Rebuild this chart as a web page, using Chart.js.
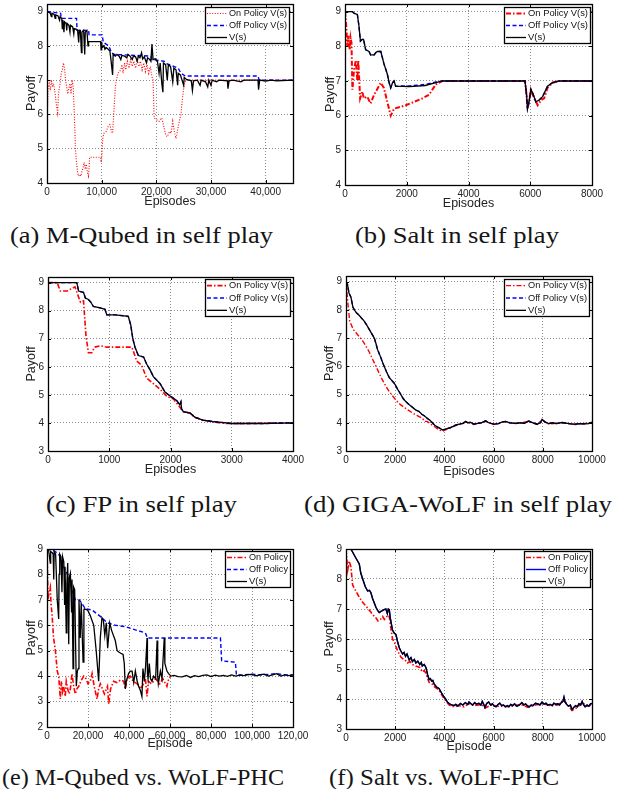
<!DOCTYPE html>
<html><head><meta charset="utf-8">
<script src="https://cdn.jsdelivr.net/npm/chart.js@4"></script>
<style>
html,body{margin:0;padding:0;background:#fff}
body{width:618px;height:789px;position:relative;overflow:hidden}
canvas{position:absolute}
.cap{position:absolute;font-family:"Liberation Serif","DejaVu Serif",serif;font-size:23px;color:#151515;white-space:nowrap;transform-origin:0 50%;line-height:28px}
</style></head><body>
<script>
// ---------- DATA ----------
const aOn = [[0,9.0],[100,6.2],[200,6.8],[400,6.9],[600,6.7],[800,7.0],[1000,6.8],[1200,6.9],[1500,6.6],[1700,6.3],[1950,6.05],[2100,6.6],[2400,6.9],[2600,7.2],[2800,7.3],[3000,7.5],[3200,7.35],[3400,7.0],[3600,6.8],[3800,6.6],[4000,6.75],[4200,6.9],[4400,6.6],[4600,7.0],[4800,6.8],[5000,6.0],[5200,5.0],[5400,4.6],[5600,4.3],[5800,4.2],[6000,4.25],[6200,4.2],[6400,4.35],[6600,4.45],[6800,4.6],[7000,4.4],[7200,4.55],[7400,4.3],[7600,4.2],[7800,4.75],[9800,4.75],[9900,4.6],[10000,4.7],[10200,5.3],[10400,5.45],[10800,5.5],[11200,5.65],[11500,5.7],[11800,5.5],[12000,5.45],[12200,6.0],[12500,6.8],[12700,7.0],[13000,7.2],[13500,7.3],[13700,7.45],[13900,7.2],[14200,7.5],[14400,7.3],[14700,7.55],[15000,7.35],[15300,7.6],[15600,7.4],[15900,7.55],[16200,7.35],[16500,7.6],[16800,7.4],[17100,7.55],[17400,7.3],[17700,7.5],[18000,7.25],[18300,7.45],[18600,7.2],[18900,7.4],[19200,7.1],[19400,7.0],[19600,5.9],[20000,5.85],[20500,5.8],[21000,5.9],[21300,5.7],[21700,5.4],[22000,5.35],[22400,5.5],[22700,5.45],[23000,5.8],[23300,5.5],[23600,5.3],[23900,5.55],[24200,5.8],[24500,6.0],[24800,6.5],[25100,6.9],[25500,7.0],[45000,7.0]];
const aOff = [[0,9.0],[2500,8.95],[2600,8.8],[5400,8.8],[5500,8.45],[7600,8.45],[7700,8.32],[10100,8.32],[10300,8.1],[11300,8.0],[11800,7.8],[12300,7.75],[19000,7.7],[19200,7.6],[21400,7.55],[21600,7.5],[24000,7.35],[24500,7.2],[25300,7.12],[38600,7.12],[38800,7.0],[45000,7.0]];
const aV = [[0,9.0],[300,8.98],[600,8.95],[800,8.85],[900,8.95],[1300,8.92],[1500,8.8],[1600,8.9],[2000,8.88],[2300,8.75],[2400,8.85],[2700,8.8],[2800,8.5],[2900,8.75],[3100,8.4],[3200,8.7],[3500,8.65],[3600,8.45],[3700,8.65],[4000,8.6],[4200,8.4],[4300,8.6],[4700,8.55],[4900,8.35],[5000,8.5],[5400,8.48],[5600,8.45],[5800,8.1],[5900,8.45],[6100,8.45],[6300,7.8],[6400,8.4],[6700,8.45],[6900,7.75],[7000,8.4],[7300,8.45],[7500,8.0],[7600,8.12],[9800,8.12],[9900,7.88],[10000,8.12],[10100,7.95],[10400,8.0],[10600,7.9],[10800,7.95],[11200,7.9],[11500,7.85],[11700,7.6],[12000,7.15],[12100,7.75],[12500,7.7],[12800,7.75],[13200,7.7],[13500,7.6],[13700,7.72],[14200,7.7],[14600,7.65],[14800,7.75],[15200,7.7],[15600,7.6],[15800,7.7],[16200,7.68],[16500,7.55],[16700,7.7],[17000,7.65],[17300,7.8],[17500,7.62],[17800,7.68],[18200,7.5],[18400,7.65],[18800,7.6],[19000,7.55],[19200,8.05],[19400,7.6],[19800,7.62],[20200,7.55],[20500,7.2],[20700,7.5],[21000,6.9],[21200,6.65],[21300,7.5],[21700,7.45],[22000,7.0],[22200,7.45],[22600,7.4],[23000,6.95],[23200,7.35],[23600,7.3],[23900,6.85],[24000,7.2],[24400,7.15],[24700,7.0],[25000,6.85],[25100,7.08],[25500,7.02],[26000,7.0],[26400,6.98],[26600,6.7],[26800,6.98],[27500,7.0],[28000,6.85],[28200,7.0],[29000,6.95],[29400,6.8],[29600,7.0],[30000,6.85],[30200,7.0],[31000,6.95],[31500,7.0],[33000,6.98],[33100,6.75],[33300,6.98],[34000,7.0],[35500,6.95],[36000,7.0],[38600,7.0],[38700,6.72],[38900,7.0],[40000,6.97],[41000,7.0],[42000,6.98],[45000,7.0]];

const bOn = [[0,9.0],[40,8.6],[75,8.0],[110,8.3],[150,7.9],[180,8.25],[210,8.1],[240,6.75],[290,7.3],[350,7.6],[400,7.0],[430,7.6],[490,6.5],[560,6.7],[610,6.5],[720,6.55],[830,6.35],[940,6.6],[1160,6.95],[1260,6.8],[1480,6.0],[1590,6.2],[1970,6.3],[2510,6.5],[2720,6.6],[2940,6.9],[3160,7.0],[5830,7.0],[5880,6.6],[5910,6.2],[5960,6.4],[6020,6.75],[6080,6.6],[6240,6.3],[6350,6.45],[6450,6.5],[6560,6.8],[6720,6.95],[6940,7.0],[8000,7.0]];
const bOff = [[0,9.0],[240,9.0],[300,8.95],[400,8.92],[450,8.6],[500,8.15],[560,8.2],[600,8.2],[670,7.9],[780,7.85],[830,7.75],[940,7.75],[1000,7.82],[1050,7.85],[1160,7.85],[1260,7.5],[1370,7.2],[1430,6.95],[1480,6.8],[1540,6.95],[1590,7.0],[1640,6.85],[2080,6.86],[2600,6.9],[2940,6.97],[3160,7.0],[5830,7.0],[5880,6.6],[5910,6.2],[5960,6.4],[6020,6.75],[6080,6.65],[6180,6.4],[6290,6.45],[6400,6.55],[6560,6.85],[6720,6.95],[6940,7.0],[8000,7.0]];
const bV = [[0,9.0],[240,9.0],[300,8.95],[400,8.92],[450,8.6],[500,8.15],[560,8.2],[600,8.2],[670,7.9],[780,7.85],[830,7.75],[940,7.75],[1000,7.82],[1050,7.85],[1160,7.85],[1260,7.5],[1370,7.2],[1430,6.95],[1480,6.8],[1540,6.95],[1590,7.0],[1640,6.85],[2080,6.84],[2600,6.87],[2940,6.95],[3160,7.0],[5830,7.0],[5880,6.6],[5910,6.2],[5960,6.4],[6020,6.75],[6080,6.65],[6180,6.4],[6290,6.45],[6400,6.55],[6560,6.85],[6720,6.95],[6940,7.0],[8000,7.0]];

const cOn = [[0,9.0],[150,9.0],[200,8.7],[310,8.7],[440,8.85],[530,8.3],[580,8.35],[620,7.1],[660,6.5],[715,6.5],[760,6.7],[850,6.75],[960,6.7],[1370,6.7],[1450,6.2],[1530,6.05],[1610,5.6],[1720,5.4],[1830,5.2],[1940,4.95],[2050,4.85],[2210,4.4],[2320,4.35],[2400,4.2],[2530,4.1],[2700,4.03],[2910,3.98],[3500,3.99],[4000,4.0]];
const cOff = [[0,9.0],[470,9.0],[500,8.7],[580,8.65],[610,8.45],[660,8.4],[700,8.3],[740,8.15],[850,8.1],[930,8.05],[960,7.85],[1100,7.85],[1310,7.8],[1350,7.5],[1385,7.0],[1420,6.7],[1475,6.4],[1560,6.35],[1610,6.1],[1665,5.9],[1720,5.65],[1830,5.4],[1910,5.1],[2000,4.95],[2100,4.8],[2150,4.65],[2170,4.75],[2180,4.5],[2210,4.4],[2320,4.35],[2400,4.2],[2530,4.1],[2700,4.05],[2910,4.0],[3000,3.98],[3500,3.98],[4000,4.0]];
const cV = [[0,9.0],[470,9.0],[500,8.7],[580,8.65],[610,8.45],[660,8.4],[700,8.3],[740,8.15],[850,8.1],[930,8.05],[960,7.85],[1100,7.85],[1310,7.8],[1350,7.5],[1385,7.0],[1420,6.7],[1475,6.4],[1560,6.35],[1610,6.1],[1665,5.9],[1720,5.65],[1830,5.4],[1910,5.1],[2000,4.95],[2100,4.8],[2150,4.65],[2170,4.75],[2180,4.5],[2210,4.4],[2320,4.35],[2400,4.2],[2530,4.1],[2700,4.05],[2910,4.0],[3000,3.98],[3500,3.98],[4000,4.0]];

const dOn = [[0,9.0],[80,8.2],[150,7.6],[200,7.5],[300,7.3],[400,7.2],[540,7.05],[680,6.9],[820,6.7],[950,6.5],[1080,6.25],[1220,6.0],[1350,5.75],[1490,5.5],[1620,5.3],[1760,5.1],[1900,4.95],[2030,4.8],[2200,4.65],[2360,4.55],[2530,4.45],[2700,4.35],[2900,4.25],[3110,4.15],[3200,4.05],[3300,4.05],[3450,3.95],[3620,3.85],[3780,3.75],[3920,3.7],[4020,3.74],[4130,3.78],[4250,3.82],[4460,3.9],[4750,3.97],[4860,4.03],[5200,3.94],[5680,4.05],[6010,3.94],[6490,4.04],[6890,3.97],[7430,4.05],[7770,3.94],[7970,4.1],[8240,3.96],[8780,4.0],[9320,3.94],[10000,4.0]];
const dOff = [[0,9.0],[60,8.9],[120,8.6],[200,8.45],[280,8.1],[340,8.0],[420,7.9],[540,7.8],[640,7.7],[740,7.6],[850,7.45],[950,7.3],[1050,7.15],[1150,7.0],[1220,6.8],[1280,6.6],[1350,6.45],[1420,6.3],[1480,6.15],[1550,6.0],[1650,5.8],[1760,5.6],[1860,5.5],[1960,5.4],[2030,5.3],[2090,5.2],[2160,5.1],[2230,5.0],[2330,4.85],[2430,4.75],[2560,4.65],[2700,4.55],[2840,4.45],[2970,4.4],[3080,4.3],[3180,4.25],[3250,4.2],[3310,4.15],[3400,4.1],[3510,4.0],[3620,3.9],[3720,3.85],[3820,3.8],[3920,3.75],[4020,3.77],[4130,3.8],[4250,3.83],[4350,3.87],[4460,3.92],[4600,3.95],[4750,3.98],[4860,4.05],[4950,4.0],[5050,4.02],[5200,3.95],[5350,3.98],[5500,4.0],[5680,4.07],[5800,4.0],[6010,3.95],[6200,3.97],[6350,4.03],[6490,4.05],[6650,4.0],[6890,3.98],[7100,4.0],[7250,3.98],[7430,4.06],[7600,4.0],[7770,3.95],[7900,4.0],[7970,4.12],[8100,4.02],[8240,3.97],[8400,4.0],[8550,3.97],[8780,4.01],[9000,3.98],[9150,3.96],[9320,3.95],[9500,3.97],[9700,3.96],[9850,3.97],[10000,4.02]];
const dV = [[0,9.0],[60,8.9],[120,8.6],[200,8.45],[280,8.1],[340,8.0],[420,7.9],[540,7.8],[640,7.7],[740,7.6],[850,7.45],[950,7.3],[1050,7.15],[1150,7.0],[1220,6.8],[1280,6.6],[1350,6.45],[1420,6.3],[1480,6.15],[1550,6.0],[1650,5.8],[1760,5.6],[1860,5.5],[1960,5.4],[2030,5.3],[2090,5.2],[2160,5.1],[2230,5.0],[2330,4.85],[2430,4.75],[2560,4.65],[2700,4.55],[2840,4.45],[2970,4.4],[3080,4.3],[3180,4.25],[3250,4.2],[3310,4.15],[3400,4.1],[3510,4.0],[3620,3.9],[3720,3.85],[3820,3.8],[3920,3.75],[4020,3.77],[4130,3.8],[4250,3.83],[4350,3.87],[4460,3.92],[4600,3.95],[4750,3.98],[4860,4.05],[4950,4.0],[5050,4.02],[5200,3.95],[5350,3.98],[5500,4.0],[5680,4.07],[5800,4.0],[6010,3.95],[6200,3.97],[6350,4.03],[6490,4.05],[6650,4.0],[6890,3.98],[7100,4.0],[7250,3.98],[7430,4.06],[7600,4.0],[7770,3.95],[7900,4.0],[7970,4.12],[8100,4.02],[8240,3.97],[8400,4.0],[8550,3.97],[8780,4.01],[9000,3.98],[9150,3.96],[9320,3.95],[9500,3.97],[9700,3.96],[9850,3.97],[10000,4.02]];

const eOn = [[0,9.0],[500,7.0],[1000,7.3],[1600,7.5],[2000,6.8],[2400,6.5],[3200,5.5],[4100,5.0],[5000,4.2],[5700,4.0],[6500,3.1],[7000,3.8],[7600,3.4],[8100,3.6],[8900,3.2],[9400,3.8],[10100,3.5],[10800,3.3],[11400,3.5],[12200,4.1],[13000,3.6],[13800,3.3],[14600,3.5],[15500,3.6],[16500,3.8],[17900,4.0],[19000,3.9],[20000,3.7],[21100,3.8],[22000,4.1],[23000,3.6],[24400,3.1],[25200,3.5],[26000,3.7],[27000,3.5],[28000,3.3],[29500,3.6],[30100,2.9],[31000,3.5],[32500,3.8],[34000,3.75],[36000,3.85],[37400,3.8],[38200,3.5],[39000,3.9],[40600,4.0],[42000,3.8],[44000,3.7],[46000,3.5],[48000,3.9],[48800,3.2],[49500,3.8],[51000,3.7],[53000,3.9],[55000,3.7],[56500,3.9],[58500,3.6],[59000,3.8],[60200,4.0]];
const eOff = [[0,9.0],[3000,8.95],[5700,8.8],[8100,8.3],[10600,7.9],[12200,7.4],[13800,7.0],[15800,7.0],[18700,6.65],[22000,6.6],[26000,6.35],[29300,6.1],[33300,6.0],[38200,5.95],[43900,5.8],[48000,5.7],[49000,5.5],[84600,5.5],[85200,4.6],[91900,4.55],[92400,4.05],[96000,4.05],[100000,4.08],[104000,4.04],[108000,4.07],[112000,4.1],[116000,4.05],[120000,4.05]];
const eV = [[0,9.0],[800,8.95],[1600,8.45],[1800,8.9],[2600,8.85],[3000,8.8],[3300,7.8],[3500,8.9],[4200,8.8],[5000,7.0],[5700,6.25],[5900,8.0],[6200,8.8],[6800,8.7],[7300,7.3],[7600,8.7],[8200,8.5],[8600,6.8],[8800,8.3],[9400,5.7],[9700,7.6],[10100,8.45],[10600,5.25],[10900,7.9],[11400,8.05],[12000,6.5],[12200,7.8],[12700,4.3],[13000,7.5],[13500,7.4],[14300,3.6],[14800,4.2],[15300,4.3],[15600,7.0],[16200,5.5],[16700,6.9],[17600,4.55],[18000,6.6],[18200,6.65],[19800,6.6],[21000,6.4],[22800,6.0],[24000,5.0],[25200,3.8],[26000,5.5],[26800,6.3],[27500,6.2],[28200,5.6],[28900,6.1],[29600,5.1],[30600,6.1],[31500,5.8],[33300,5.4],[34200,5.0],[35000,4.95],[36000,4.9],[37100,4.85],[37700,4.5],[38200,3.5],[38700,3.8],[39800,4.1],[40600,4.2],[41500,4.2],[42300,3.75],[43100,4.2],[44000,3.8],[44700,3.6],[45500,3.45],[46300,3.2],[46800,4.3],[47500,3.8],[48100,4.4],[48800,5.5],[49000,4.1],[49300,3.9],[49900,4.5],[50500,3.9],[51200,3.8],[52000,4.0],[53000,3.9],[53700,5.4],[54000,4.0],[54300,3.7],[55300,4.2],[56100,3.9],[57200,5.5],[57500,4.5],[58500,4.2],[59300,4.1],[60500,4.0],[62000,4.03],[64000,3.98],[66000,3.97],[68000,4.03],[70000,3.95],[72000,4.02],[74000,3.98],[76000,4.03],[78000,4.05],[80000,3.98],[82000,4.04],[84000,4.0],[86000,4.03],[88000,3.99],[90000,4.05],[92000,4.0],[94000,4.04],[96000,4.02],[98000,4.06],[100000,4.07],[102000,4.01],[104000,4.06],[106000,4.08],[108000,4.0],[110000,4.05],[112000,4.1],[114000,4.0],[116000,4.05],[118000,4.02],[120000,4.05]];

const fOn = [[0,9.0],[70,8.3],[130,8.6],[200,8.4],[270,7.8],[400,7.6],[500,7.45],[610,7.3],[700,7.2],[810,7.1],[900,7.0],[1010,6.9],[1100,6.8],[1220,6.7],[1300,6.6],[1400,6.65],[1490,6.75],[1560,6.65],[1620,6.7],[1700,6.8],[1760,6.75],[1800,6.5],[1890,6.0],[1960,5.9],[2100,5.6],[2230,5.4],[2300,5.35],[2400,5.3],[2500,5.2],[2600,5.25],[2700,5.15],[2840,5.1],[3000,5.05],[3100,4.9],[3180,4.95],[3250,4.85],[3380,4.55],[3500,4.5],[3600,4.4],[3780,4.3],[3920,4.1],[4050,3.95],[4190,3.8],[4300,3.75],[4460,3.75],[4600,3.78],[4800,3.74],[5000,3.85],[5200,3.78],[5500,3.82],[5650,3.7],[5900,3.8],[6200,3.76],[6500,3.75],[6800,3.76],[7100,3.82],[7400,3.72],[7700,3.8],[8000,3.84],[8300,3.78],[8600,3.8],[8860,3.98],[9000,3.8],[9190,3.62],[9400,3.72],[9600,3.88],[9800,3.76],[10000,3.8]];
const fV = [[0,9.0],[200,9.0],[300,8.85],[400,8.7],[540,8.5],[600,8.2],[680,8.0],[780,7.75],[880,7.6],[950,7.62],[1010,7.55],[1080,7.35],[1150,7.2],[1220,7.05],[1290,6.95],[1350,6.88],[1420,6.92],[1490,6.95],[1550,6.98],[1620,7.0],[1680,6.85],[1720,7.0],[1760,6.98],[1800,6.7],[1890,6.3],[1960,6.2],[2030,6.15],[2100,5.9],[2170,5.7],[2230,5.6],[2300,5.5],[2360,5.55],[2420,5.42],[2480,5.5],[2570,5.3],[2640,5.38],[2700,5.25],[2780,5.32],[2840,5.2],[2920,5.26],[3000,5.15],[3060,5.22],[3100,5.1],[3180,5.15],[3250,5.05],[3320,4.8],[3380,4.65],[3430,4.68],[3480,4.6],[3530,4.62],[3580,4.5],[3680,4.4],[3780,4.35],[3850,4.25],[3920,4.15],[4000,4.05],[4050,4.0],[4120,3.9],[4190,3.85],[4300,3.8],[4400,3.78],[4460,3.82],[4550,3.77],[4650,3.85],[4750,3.8],[4850,3.88],[4950,3.82],[5000,3.9],[5080,3.84],[5150,3.8],[5230,3.88],[5300,3.83],[5400,3.86],[5480,3.8],[5540,3.92],[5600,3.82],[5650,3.72],[5720,3.85],[5800,3.9],[5880,3.8],[5950,3.84],[6030,3.76],[6100,3.74],[6180,3.82],[6250,3.86],[6330,3.78],[6400,3.8],[6480,3.74],[6560,3.78],[6620,3.74],[6700,3.82],[6780,3.78],[6850,3.84],[6950,3.76],[7050,3.8],[7150,3.88],[7230,3.8],[7300,3.84],[7380,3.77],[7450,3.74],[7530,3.8],[7600,3.78],[7700,3.86],[7800,3.84],[7880,3.8],[7970,3.9],[8050,3.83],[8130,3.86],[8200,3.8],[8300,3.82],[8380,3.78],[8450,3.86],[8530,3.82],[8600,3.84],[8680,3.8],[8750,3.88],[8820,3.92],[8860,4.06],[8900,3.9],[8970,3.82],[9050,3.76],[9120,3.8],[9190,3.65],[9260,3.72],[9330,3.78],[9400,3.74],[9470,3.84],[9540,3.8],[9600,3.92],[9650,3.82],[9720,3.74],[9800,3.8],[9870,3.76],[9940,3.84],[10000,3.85]];
const fOff = fV;

const aXTicks = [0,10000,20000,30000,40000];
const aXLabels = ['0','10,000','20,000','30,000','40,000'];
const bXTicks = [0,2000,4000,6000,8000];
const bXLabels = ['0','2000','4000','6000','8000'];
const cXTicks = [0,1000,2000,3000,4000];
const cXLabels = ['0','1000','2000','3000','4000'];
const dfXTicks = [0,2000,4000,6000,8000,10000];
const dfXLabels = ['0','2000','4000','6000','8000','10000'];
const eXTicks = [0,20000,40000,60000,80000,100000,120000];
const eXLabels = ['0','20,000','40,000','60,000','80,000','100,000','120,00'];
const yTicks4 = [4,5,6,7,8,9];
const yTicks3 = [3,4,5,6,7,8,9];
const yTicks2 = [2,3,4,5,6,7,8,9];
const legendLong = ['On Policy V(s)','Off Policy V(s)','V(s)'];
const legendShort = ['On Policy','Off Policy','V(s)'];
const captions = ['(a) M-Qubed in self play','(b) Salt in self play','(c) FP in self play','(d) GIGA-WoLF in self play','(e) M-Qubed vs. WoLF-PHC','(f) Salt vs. WoLF-PHC'];

// ---------- LAYOUT / STYLE ----------
const RED='#ff0000', BLUE='#0000ff', BLACK='#000000';
const DOT=[1,1.6], DASHDOT=[5,2,1.5,2], DASH=[4,2.5];
const panels = [
 {x0:0,  y0:0,  w:309,h:212, area:[47,4,293,183],  yT:32, xT:202, xMax:45000, yMin:4, yMax:9.22, xt:aXTicks, xl:aXLabels, yt:yTicks4, xTitle:'Episodes', s:[aOn,aOff,aV], lab:legendLong, red:[DOT,1.1], blue:[DASH,1.4], leg:[205,7,84,36]},
 {x0:309,y0:0,  w:309,h:212, area:[345,4,592,185], yT:331,xT:204, xMax:8000,  yMin:4, yMax:9.22, xt:bXTicks, xl:bXLabels, yt:yTicks4, xTitle:'Episodes', s:[bOn,bOff,bV], lab:legendLong, red:[DASHDOT,2], blue:[DASH,1.4], leg:[504,7,86,36]},
 {x0:0,  y0:250,w:309,h:232, area:[48,277,293,451],yT:32, xT:470, xMax:4000,  yMin:3, yMax:9.2,  xt:cXTicks, xl:cXLabels, yt:yTicks3, xTitle:'Episodes', s:[cOn,cOff,cV], lab:legendLong, red:[DASHDOT,1.6], blue:[DASH,1.4], leg:[205,279,85,37]},
 {x0:309,y0:250,w:309,h:232, area:[346,276,592,451],yT:330,xT:472, xMax:10000, yMin:3, yMax:9.2,  xt:dfXTicks,xl:dfXLabels,yt:yTicks3, xTitle:'Episodes', s:[dOn,dOff,dV], lab:legendLong, red:[DASHDOT,1.4], blue:[DASH,1.4], leg:[504,279,85,37]},
 {x0:0,  y0:535,w:309,h:220, area:[47,549,293,727],yT:32, xT:744, xMax:120000,yMin:2, yMax:9,    xt:eXTicks, xl:eXLabels, yt:yTicks2, xTitle:'Episode',  s:[eOn,eOff,eV], lab:legendShort,red:[DASHDOT,1.6], blue:[DASH,1.4], leg:[225,551,65,36]},
 {x0:309,y0:535,w:309,h:220, area:[346,549,592,729],yT:330,xT:747, xMax:10000, yMin:3, yMax:9,    xt:dfXTicks,xl:dfXLabels,yt:yTicks3, xTitle:'Episode',  s:[fOn,fOff,fV], lab:legendShort,red:[DASHDOT,1.6], blue:[[],1.4],  leg:[524,551,66,36]}
];
const capPos = [[10,236,263],[355,236,204],[46,505,191],[304,505,308],[2,778,282],[329,778,230]];

const SANS='"Liberation Sans", Arial, sans-serif';
const TICKFONT={family:SANS,size:10};
const TITLEFONT={family:SANS,size:12.5};

const framePlugin = {
  id:'frame',
  afterDatasetsDraw(chart){
    const {ctx, chartArea:a, scales:{x,y}} = chart;
    ctx.save();
    ctx.strokeStyle='#000'; ctx.lineWidth=1; ctx.setLineDash([]);
    ctx.beginPath();
    x.ticks.forEach(t=>{const p=Math.round(x.getPixelForValue(t.value))+0.5; ctx.moveTo(p,a.bottom); ctx.lineTo(p,a.bottom-3); ctx.moveTo(p,a.top); ctx.lineTo(p,a.top+3);});
    y.ticks.forEach(t=>{const p=Math.round(y.getPixelForValue(t.value))+0.5; ctx.moveTo(a.left,p); ctx.lineTo(a.left+3,p); ctx.moveTo(a.right,p); ctx.lineTo(a.right-3,p);});
    ctx.stroke();
    ctx.lineWidth=1.3;
    ctx.strokeRect(Math.round(a.left)+0.5, Math.round(a.top)+0.5, Math.round(a.right-a.left), Math.round(a.bottom-a.top));
    ctx.restore();
  }
};
const boxLegend = {
  id:'boxLegend',
  afterDraw(chart, args, o){
    const ctx=chart.ctx; const [bx,by,bw,bh]=o.box;
    const X=bx-o.ox, Y=by-o.oy;
    ctx.save();
    ctx.fillStyle='#fff'; ctx.fillRect(X,Y,bw,bh);
    ctx.strokeStyle='#000'; ctx.lineWidth=1.3; ctx.setLineDash([]);
    ctx.strokeRect(Math.round(X)+0.5,Math.round(Y)+0.5,bw,bh);
    ctx.font='9.5px '+SANS; ctx.textBaseline='middle'; ctx.fillStyle='#111';
    const n=chart.data.datasets.length;
    chart.data.datasets.forEach((ds,i)=>{
      const cy=Y+bh*(2*i+1)/(2*n)+0.5;
      ctx.strokeStyle=ds.borderColor; ctx.lineWidth=ds.borderWidth; ctx.setLineDash(ds.borderDash||[]);
      ctx.beginPath(); ctx.moveTo(X+2,cy); ctx.lineTo(X+22,cy); ctx.stroke();
      ctx.fillText(ds.label, X+24, cy, bw-26);
    });
    ctx.restore();
  }
};

Chart.defaults.font.family=SANS;

panels.forEach((p,k)=>{
  const cv=document.createElement('canvas');
  cv.width=p.w; cv.height=p.h; cv.style.left=p.x0+'px'; cv.style.top=p.y0+'px';
  cv.style.width=p.w+'px'; cv.style.height=p.h+'px';
  document.body.appendChild(cv);
  const [L,T,R,B]=p.area;
  const yw=L-p.x0, xh=p.y0+p.h-B, lh=TITLEFONT.size*1.2;
  const mk=(arr)=>arr.map(q=>({x:q[0],y:q[1]}));
  const ds=[
    {label:p.lab[0], data:mk(p.s[0]), borderColor:RED, borderWidth:p.red[1], borderDash:p.red[0], order:3},
    {label:p.lab[1], data:mk(p.s[1]), borderColor:BLUE, borderWidth:p.blue[1], borderDash:p.blue[0], order:2},
    {label:p.lab[2], data:mk(p.s[2]), borderColor:BLACK, borderWidth:1.3, borderDash:[], order:1}
  ];
  ds.forEach(d=>{d.pointRadius=0; d.tension=0; d.fill=false; d.borderJoinStyle='miter'; d.borderCapStyle='butt';});
  new Chart(cv,{
    type:'line',
    data:{datasets:ds},
    options:{
      responsive:false, animation:false, devicePixelRatio:1, events:[],
      layout:{autoPadding:false, padding:{top:T-p.y0, right:p.x0+p.w-R, left:0, bottom:0}},
      plugins:{legend:{display:false}, tooltip:{enabled:false},
        boxLegend:{box:p.leg, ox:p.x0, oy:p.y0}},
      scales:{
        x:{type:'linear', min:0, max:p.xMax,
          afterBuildTicks:s=>{s.ticks=p.xt.map(v=>({value:v}));},
          afterFit:s=>{s.height=xh; s.paddingLeft=0; s.paddingRight=0;},
          ticks:{autoSkip:false, maxRotation:0, padding:3, color:'#222', font:TICKFONT, callback:(v,i)=>p.xl[i]},
          grid:{color:'rgba(0,0,0,0.45)', lineWidth:1, drawTicks:false},
          border:{display:false, dash:[1,2]},
          title:{display:true, text:p.xTitle, color:'#222', font:TITLEFONT, padding:{top:0,bottom:Math.max(0,p.h-(p.xT-p.y0)-lh/2)}}
        },
        y:{type:'linear', min:p.yMin, max:p.yMax,
          afterBuildTicks:s=>{s.ticks=p.yt.map(v=>({value:v}));},
          afterFit:s=>{s.width=yw; s.paddingTop=0; s.paddingBottom=0;},
          ticks:{autoSkip:false, padding:4, color:'#222', font:TICKFONT, callback:(v)=>String(v)},
          grid:{color:'rgba(0,0,0,0.45)', lineWidth:1, drawTicks:false},
          border:{display:false, dash:[1,2]},
          title:{display:true, text:'Payoff', color:'#222', font:TITLEFONT, padding:{top:Math.max(0,p.yT-p.x0-lh/2),bottom:0}}
        }
      }
    },
    plugins:[framePlugin, boxLegend]
  });
});

captions.forEach((c,i)=>{
  const d=document.createElement('div'); d.className='cap'; d.textContent=c;
  const [x,yc,w]=capPos[i];
  d.style.left=x+'px'; d.style.top=(yc-14)+'px';
  document.body.appendChild(d);
  const mw=d.getBoundingClientRect().width;
  d.style.transform='scaleX('+(w/mw).toFixed(3)+')';
});
</script>
</body></html>
